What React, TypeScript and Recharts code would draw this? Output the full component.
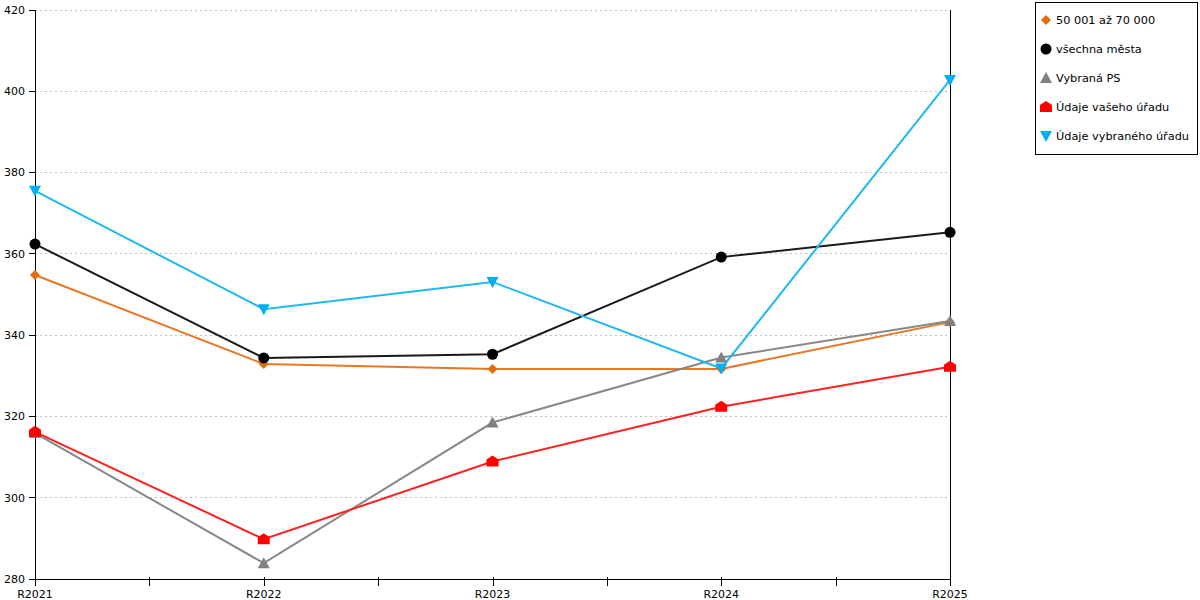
import React from "react"
import { LineChart, Line, XAxis, YAxis, CartesianGrid, ReferenceLine } from "recharts"

const years = ["R2021", "R2022", "R2023", "R2024", "R2025"]
const yTicks = [280, 300, 320, 340, 360, 380, 400, 420]
const xTicks = [0, 0.5, 1, 1.5, 2, 2.5, 3, 3.5, 4]

const size50to70 = [354.8, 332.9, 331.7, 331.7, 343.2]
const allCities = [362.4, 334.4, 335.3, 359.2, 365.3]
const selectedPS = [315.9, 283.9, 318.5, 334.5, 343.5]
const yourOffice = [316.2, 289.8, 308.9, 322.4, 332.2]
const selectedOffice = [375.5, 346.4, 353.1, 331.8, 402.8]

type Shape = "diamond" | "circle" | "up" | "house" | "down"

const series: { key: string; name: string; color: string; line: string; shape: Shape; values: number[] }[] = [
  { key: "a", name: "50 001 až 70 000", color: "#E46C0A", line: "#E87722", shape: "diamond", values: size50to70 },
  { key: "b", name: "všechna města", color: "#000000", line: "#1a1a1a", shape: "circle", values: allCities },
  { key: "c", name: "Vybraná PS", color: "#808080", line: "#888888", shape: "up", values: selectedPS },
  { key: "d", name: "Údaje vašeho úřadu", color: "#FF0000", line: "#FF2020", shape: "house", values: yourOffice },
  { key: "e", name: "Údaje vybraného úřadu", color: "#00B0F0", line: "#20B8F0", shape: "down", values: selectedOffice },
]

const data = years.map((y, i) => {
  const row: Record<string, number | string> = { x: i, label: y }
  series.forEach((s) => {
    row[s.key] = s.values[i]
  })
  return row
})

const FONT = "DejaVu Sans, Verdana, sans-serif"

function Marker({ cx, cy, shape, color }: { cx: number; cy: number; shape: Shape; color: string }) {
  switch (shape) {
    case "diamond":
      return <polygon points={`${cx},${cy - 5} ${cx + 5},${cy} ${cx},${cy + 5} ${cx - 5},${cy}`} fill={color} />
    case "circle":
      return <circle cx={cx} cy={cy} r={5.5} fill={color} />
    case "up":
      return <polygon points={`${cx},${cy - 6} ${cx + 6},${cy + 5} ${cx - 6},${cy + 5}`} fill={color} />
    case "house":
      return (
        <polygon
          points={`${cx},${cy - 6} ${cx + 6},${cy - 2} ${cx + 6},${cy + 5} ${cx - 6},${cy + 5} ${cx - 6},${cy - 2}`}
          fill={color}
        />
      )
    case "down":
      return <polygon points={`${cx - 6},${cy - 5} ${cx + 6},${cy - 5} ${cx},${cy + 6}`} fill={color} />
  }
  return null
}

function XTick(props: any) {
  const { x, y, payload } = props
  const axisY = y - 10
  const v = payload.value
  const isCat = Number.isInteger(v)
  const px = Math.round(x) + 0.5
  return (
    <g>
      <line x1={px} x2={px} y1={axisY - 2} y2={axisY + 7} stroke="#000" strokeWidth={1} shapeRendering="crispEdges" />
      {isCat && (
        <text x={x} y={axisY + 19} textAnchor="middle" fontSize={11} fill="#000" fontFamily={FONT}>
          {years[v]}
        </text>
      )}
    </g>
  )
}

export default function App() {
  return (
    <div style={{ position: "fixed", left: 0, top: 0, width: 1200, height: 600, background: "#fff" }}>
      <LineChart width={1200} height={600} data={data} margin={{ top: 10, right: 250, bottom: 0, left: 0 }}>
        <CartesianGrid vertical={false} stroke="#c0c0c0" strokeDasharray="2 3" shapeRendering="crispEdges" />
        <XAxis
          dataKey="x"
          type="number"
          domain={[0, 4]}
          ticks={xTicks}
          interval={0}
          height={21}
          tickSize={8}
          tickMargin={2}
          tickLine={false}
          axisLine={{ stroke: "#000", shapeRendering: "crispEdges" }}
          tick={<XTick />}
        />
        <YAxis
          domain={[280, 420]}
          ticks={yTicks}
          interval={0}
          width={35}
          tickSize={6}
          tickMargin={4}
          axisLine={{ stroke: "#000", shapeRendering: "crispEdges" }}
          tickLine={{ stroke: "#000", shapeRendering: "crispEdges" }}
          tick={{ fontSize: 11, fill: "#000", fontFamily: FONT }}
        />
        <ReferenceLine x={4} stroke="#000" strokeWidth={1} shapeRendering="crispEdges" />
        {series.map((s) => (
          <Line
            key={s.key}
            dataKey={s.key}
            name={s.name}
            stroke={s.line}
            strokeWidth={2}
            isAnimationActive={false}
            dot={(p: any) => <Marker key={`${s.key}-${p.index}`} cx={p.cx} cy={p.cy} shape={s.shape} color={s.color} />}
            activeDot={false}
          />
        ))}
      </LineChart>
      <div
        style={{
          position: "absolute",
          left: 1035,
          top: 2,
          width: 161,
          height: 151,
          border: "1px solid #000",
          fontFamily: FONT,
          fontSize: 11.3,
          color: "#000",
        }}
      >
        {series.map((s, i) => (
          <div key={s.key} style={{ position: "absolute", left: 3, top: 8 + i * 29, height: 18, display: "flex", alignItems: "center" }}>
            <svg width={14} height={14} style={{ marginRight: 3 }}>
              <Marker cx={7} cy={7} shape={s.shape} color={s.color} />
            </svg>
            <span style={{ whiteSpace: "nowrap" }}>{s.name}</span>
          </div>
        ))}
      </div>
    </div>
  )
}
